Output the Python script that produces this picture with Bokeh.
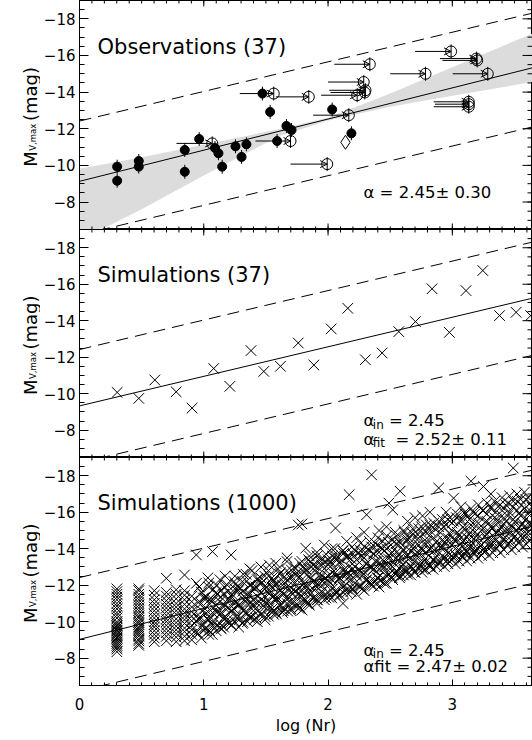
import math
from bokeh.plotting import figure
from bokeh.layouts import column, row
from bokeh.models import (Range1d, FixedTicker, LinearAxis, Label, Arrow,
                          OpenHead, ColumnDataSource)
from bokeh.embed import file_html
from bokeh.resources import INLINE

# ---------------- data ----------------
x_major = [0, 1, 2, 3]
x_tick_labels = ["0", "1", "2", "3"]
y_major = [-18, -16, -14, -12, -10, -8]
y_tick_labels = ["\u221218", "\u221216", "\u221214", "\u221212", "\u221210", "\u22128"]

# Observations: detections (filled circles)
obs_det_x = [0.303, 0.303, 0.477, 0.477, 0.847, 0.847, 0.963, 1.09, 1.118, 1.148,
             1.255, 1.304, 1.343, 1.472, 1.534, 1.590, 1.665, 1.706, 2.033, 2.188]
obs_det_m = [-9.93, -9.16, -10.24, -9.93, -10.84, -9.65, -11.44, -10.95, -10.66, -9.93,
             -11.04, -10.46, -11.15, -13.92, -12.92, -11.33, -12.15, -11.93, -13.05, -11.75]
# Observations: lower limits in log(Nr) (open circles with arrows)
obs_lim_x = [1.068, 1.563, 1.698, 1.845, 1.993, 2.167, 2.336, 2.287, 2.301, 2.295,
             2.234, 2.990, 3.194, 3.200, 2.784, 3.285, 3.132, 3.132, 3.132]
obs_lim_from = [0.78, 1.29, 1.416, 1.58, 1.698, 1.88, 2.05, 2.00, 2.01, 2.02,
                1.944, 2.70, 2.90, 2.92, 2.50, 3.003, 2.85, 2.86, 2.85]
obs_lim_m = [-11.20, -13.92, -11.33, -13.74, -10.07, -12.74, -15.52, -14.55, -14.10, -13.98,
             -13.83, -16.22, -15.83, -15.73, -15.00, -15.00, -13.47, -13.34, -13.20]
obs_diam_x = [2.14]
obs_diam_m = [-11.26]
obs_err = 0.38

# confidence band of the fit (observations)
obs_band_x = [0.0, 0.5, 1.0, 1.6, 2.0, 2.5, 3.0, 3.645]
obs_band_hi = [-9.81, -10.45, -11.12, -11.97, -12.60, -13.92, -15.35, -17.20]
obs_band_lo = [-5.90, -7.60, -9.45, -11.57, -12.45, -13.20, -13.80, -14.55]

# dashed envelopes (same in every panel)
dash_x = [0.0, 3.645]
dash_up = [-12.42, -18.31]
dash_lo = [-6.20, -12.10]

# fitted lines: intercept, slope
obs_fit = (-9.13, -1.70)
sim37_fit = (-9.33, -1.62)
sim1000_fit = (-9.03, -1.70)

# Simulations (37)
sim37_x = [0.303, 0.477, 0.606, 0.778, 0.906, 1.08, 1.21, 1.38, 1.483, 1.617,
           1.76, 1.886, 2.025, 2.159, 2.30, 2.435, 2.569, 2.703, 2.837, 2.976,
           3.11, 3.245, 3.38, 3.513, 3.63]
sim37_m = [-10.07, -9.74, -10.75, -10.10, -9.21, -11.38, -10.40, -12.36, -11.22, -11.50,
           -12.78, -11.57, -13.55, -14.68, -11.86, -12.23, -13.40, -13.95, -15.75, -13.36,
           -15.65, -16.75, -14.28, -14.46, -14.28]

# Simulations (1000): columns in log(Nr) and the magnitudes found in each
sim_col_x = [0.301, 0.477, 0.602, 0.699, 0.778, 0.845, 0.903,
             0.94, 0.98, 1.01, 1.04, 1.07, 1.10, 1.13, 1.16, 1.19, 1.22,
             1.25, 1.28, 1.31, 1.34, 1.37, 1.40, 1.43, 1.46, 1.49, 1.52,
             1.55, 1.58, 1.61, 1.64, 1.67, 1.70, 1.73, 1.76, 1.79, 1.82,
             1.85, 1.88, 1.91, 1.94, 1.97, 2.00, 2.03, 2.06, 2.09, 2.12,
             2.15, 2.17, 2.20, 2.23, 2.26, 2.29, 2.31, 2.35, 2.38, 2.41,
             2.44, 2.47, 2.49, 2.52, 2.55, 2.58, 2.61, 2.64, 2.67, 2.70,
             2.73, 2.76, 2.79, 2.82, 2.85, 2.89, 2.92, 2.95, 2.98, 3.01,
             3.04, 3.07, 3.10, 3.13, 3.15, 3.18, 3.21, 3.25, 3.28, 3.31,
             3.34, 3.37, 3.40, 3.43, 3.46, 3.49, 3.52, 3.55, 3.58, 3.61, 3.64]
sim_col_m = [
    [-8.35, -8.5, -8.6, -8.7, -8.8, -8.9, -9.0, -9.1, -9.15, -9.25, -9.3, -9.4, -9.5, -9.55, -9.65,
     -9.75, -9.8, -9.9, -10.0, -10.2, -10.35, -10.5, -10.7, -10.85, -11.0, -11.2, -11.35, -11.5, -11.65, -11.8],
    [-8.7, -8.8, -8.95, -9.05, -9.2, -9.3, -9.4, -9.5, -9.6, -9.7, -9.85, -9.95, -10.05, -10.2, -10.3,
     -10.45, -10.6, -10.75, -10.9, -11.05, -11.2, -11.35, -11.5, -11.7, -11.8],
    [-8.9, -9.1, -9.3, -9.5, -9.7, -9.85, -10.0, -10.2, -10.4, -10.6, -10.8, -11.0, -11.2, -11.45, -11.7],
    [-8.95, -9.2, -9.4, -9.6, -9.8, -10.0, -10.15, -10.35, -10.55, -10.75, -10.95, -11.15, -11.4, -11.6, -12.38],
    [-8.9, -9.15, -9.35, -9.55, -9.75, -9.95, -10.15, -10.4, -10.6, -10.8, -11.0, -11.25, -11.5, -11.75],
    [-8.95, -9.2, -9.45, -9.65, -9.9, -10.1, -10.3, -10.5, -10.7, -10.95, -11.2, -11.45, -11.7, -12.56],
    [-9.0, -9.3, -9.55, -9.8, -10.05, -10.3, -10.55, -10.8, -11.1, -11.4],
    [-13.66, -12.1, -10.0, -9.4], [-9.1, -10.2, -11.0, -11.6], [-9.6, -10.7, -11.3],
    [-9.3, -10.1, -11.9, -12.12], [-9.8, -10.5, -11.2, -13.84], [-9.5, -10.9, -11.6],
    [-9.9, -10.4, -11.1, -12.3], [-9.7, -10.8, -11.5], [-10.1, -11.2, -12.0],
    [-9.8, -10.6, -11.4, -13.66], [-10.0, -11.0, -11.8, -12.5], [-10.3, -10.9, -11.7],
    [-9.9, -11.3, -12.2], [-10.5, -11.1, -12.6], [-10.2, -11.5, -12.0, -12.9],
    [-10.6, -11.2, -11.9], [-10.0, -11.0, -12.3], [-10.4, -11.6, -12.1, -13.0],
    [-10.8, -11.4, -12.5], [-10.3, -11.1, -11.8, -12.8], [-10.7, -11.9, -12.4],
    [-10.5, -11.3, -12.0, -13.2], [-10.9, -11.7, -12.6], [-10.6, -11.5, -12.2],
    [-11.0, -11.9, -12.8, -13.5], [-10.7, -11.6, -12.4], [-11.1, -12.1, -13.0],
    [-10.9, -11.8, -12.6, -15.3], [-10.64, -11.4, -12.3, -13.3, -15.36], [-11.2, -12.0, -12.9, -14.03],
    [-10.9, -11.7, -12.5, -13.6], [-11.3, -12.2, -13.1], [-11.0, -11.9, -12.7, -13.8],
    [-11.5, -12.4, -13.3], [-11.2, -12.1, -12.9, -14.2], [-11.6, -12.5, -13.4],
    [-11.3, -12.3, -13.1, -14.0], [-11.7, -12.7, -13.6, -15.13], [-11.4, -12.4, -13.2],
    [-11.0, -11.9, -12.8, -13.9], [-11.6, -12.6, -13.5, -14.4], [-16.96, -12.2, -13.0],
    [-11.8, -12.9, -13.7], [-11.5, -12.5, -13.4, -14.6], [-11.9, -12.8, -13.9],
    [-11.7, -12.6, -13.5, -14.9], [-15.86, -12.3, -13.2], [-18.05, -12.0, -13.0, -14.1],
    [-12.2, -13.3, -14.3], [-11.9, -12.9, -13.8, -15.0], [-12.4, -13.4, -14.4],
    [-12.1, -13.1, -14.0, -15.2], [-16.5, -12.6, -13.6], [-16.13, -12.3, -13.3, -14.5],
    [-12.8, -13.8, -14.7], [-17.15, -12.5, -13.5, -14.3], [-12.9, -13.9, -15.0],
    [-12.6, -13.6, -14.5, -15.5], [-13.0, -14.1, -14.9], [-12.7, -13.7, -14.6, -15.7],
    [-13.2, -14.2, -15.1], [-12.9, -13.9, -14.8, -15.8], [-13.3, -14.4, -15.3],
    [-13.0, -14.0, -15.0, -16.0], [-13.4, -14.6, -15.4], [-17.33, -13.2, -14.2, -15.2],
    [-13.6, -14.5, -15.6], [-13.3, -14.3, -15.3, -16.0], [-13.7, -14.8, -15.7],
    [-16.77, -13.5, -14.5, -15.5], [-13.9, -14.9, -15.9], [-13.6, -14.6, -15.6, -16.3],
    [-14.0, -15.1, -16.0], [-13.7, -14.8, -15.8], [-17.7, -14.2, -15.3, -16.2],
    [-13.9, -14.9, -15.9], [-14.3, -15.4, -16.4], [-17.41, -14.0, -15.1, -16.1],
    [-14.5, -15.5, -16.5], [-14.2, -15.2, -16.2, -17.0], [-14.6, -15.7, -16.6],
    [-14.3, -15.4, -16.3], [-14.8, -15.8, -16.8], [-14.4, -15.5, -16.4],
    [-14.9, -16.0, -16.9], [-18.42, -14.6, -15.6, -16.6], [-15.0, -16.1, -17.0],
    [-14.7, -15.8, -16.7], [-15.2, -16.2, -17.1], [-14.9, -15.9, -16.8], [-15.3, -16.3],
]
# further simulated columns lying between the ones above
sim_col2_x = [0.955, 0.985, 1.015, 1.045, 1.075, 1.105, 1.135, 1.165, 1.195, 1.225,
              1.255, 1.285, 1.315, 1.345, 1.375, 1.405, 1.435, 1.465, 1.495, 1.525,
              1.555, 1.585, 1.615, 1.645, 1.675, 1.705, 1.735, 1.765, 1.795, 1.825,
              1.855, 1.885, 1.915, 1.945, 1.975, 2.005, 2.035, 2.065, 2.095, 2.125,
              2.155, 2.185, 2.215, 2.245, 2.275, 2.305, 2.335, 2.365, 2.395, 2.425,
              2.455, 2.485, 2.515, 2.545, 2.575, 2.605, 2.635, 2.665, 2.695, 2.725,
              2.755, 2.785, 2.815, 2.845, 2.875, 2.905, 2.935, 2.965, 2.995, 3.025,
              3.055, 3.085, 3.115, 3.145, 3.175, 3.205, 3.235, 3.265, 3.295, 3.325,
              3.355, 3.385, 3.415, 3.445, 3.475, 3.505, 3.535, 3.565, 3.595, 3.625]
sim_col2_m = [
    [-9.35, -10.15, -11.05], [-9.80, -10.60, -11.60], [-9.66, -10.46, -11.36],
    [-9.51, -10.31, -11.21], [-9.96, -10.76, -11.76], [-9.81, -10.61, -11.51],
    [-9.66, -10.46, -11.36], [-10.11, -10.91, -11.91], [-9.96, -10.76, -11.66],
    [-9.81, -10.61, -11.51], [-10.26, -11.06, -12.06], [-10.11, -10.91, -11.81],
    [-9.97, -10.77, -11.67], [-10.42, -11.22, -12.22], [-10.27, -11.07, -11.97],
    [-10.12, -10.92, -11.82], [-10.57, -11.37, -12.37], [-10.42, -11.22, -12.12],
    [-10.27, -11.07, -11.97], [-10.72, -11.52, -12.52], [-10.57, -11.37, -12.27],
    [-10.42, -11.22, -12.12], [-10.88, -11.68, -12.68], [-10.73, -11.53, -12.43],
    [-10.58, -11.38, -12.28], [-11.03, -11.83, -12.83], [-10.88, -11.68, -12.58],
    [-10.73, -11.53, -12.43], [-11.18, -11.98, -12.98], [-11.03, -11.93, -12.83],
    [-11.48, -12.38, -13.28], [-11.33, -12.23, -13.13], [-11.19, -12.09, -12.99],
    [-11.64, -12.54, -13.44], [-11.49, -12.39, -13.29], [-11.34, -12.24, -13.14],
    [-11.79, -12.69, -13.59], [-11.64, -12.54, -13.44], [-11.49, -12.39, -13.29],
    [-11.94, -12.84, -13.74], [-11.79, -12.69, -13.59], [-11.65, -12.55, -13.45],
    [-12.10, -13.00, -13.90], [-11.95, -12.85, -13.75], [-11.80, -12.70, -13.60],
    [-12.25, -13.15, -14.05], [-12.10, -13.00, -13.90], [-11.95, -12.85, -13.75],
    [-12.40, -13.30, -14.20], [-12.25, -13.15, -14.05], [-12.10, -13.00, -13.90],
    [-12.55, -13.45, -14.35], [-12.41, -13.01, -13.81], [-12.66, -13.46, -14.26],
    [-12.41, -12.91, -13.71], [-12.56, -13.16, -13.96], [-12.81, -13.61, -14.41],
    [-12.56, -13.06, -13.86], [-12.71, -13.31, -14.11], [-12.96, -13.76, -14.56],
    [-12.71, -13.21, -14.01], [-12.86, -13.46, -14.26], [-13.12, -13.92, -14.72],
    [-12.87, -13.37, -14.17], [-13.02, -13.62, -14.42], [-13.27, -14.07, -14.87],
    [-13.02, -13.52, -14.32], [-13.17, -13.77, -14.57], [-13.42, -14.22, -15.02],
    [-13.17, -13.67, -14.47], [-13.32, -13.92, -14.72], [-13.57, -14.37, -15.17],
    [-13.33, -13.83, -14.63], [-13.48, -14.08, -14.88], [-13.73, -14.53, -15.33],
    [-13.48, -13.98, -14.78], [-13.63, -14.23, -15.03], [-13.88, -14.68, -15.48],
    [-13.63, -14.13, -14.93], [-13.78, -14.38, -15.18], [-14.03, -14.83, -15.63],
    [-13.78, -14.28, -15.08], [-13.94, -14.54, -15.34], [-14.19, -14.99, -15.79],
    [-13.94, -14.44, -15.24], [-14.09, -14.69, -15.49], [-14.34, -15.14, -15.94],
    [-14.09, -14.59, -15.39], [-14.24, -14.84, -15.64], [-14.49, -15.29, -16.09],
]
# a third, irregularly spaced set of simulated columns
sim_col3_x = [0.962, 0.997, 1.033, 1.068, 1.104, 1.141, 1.172, 1.208, 1.243, 1.281,
              1.317, 1.352, 1.388, 1.421, 1.459, 1.493, 1.528, 1.562, 1.597, 1.633,
              1.669, 1.702, 1.738, 1.772, 1.807, 1.843, 1.879, 1.912, 1.948, 1.983,
              2.018, 2.054, 2.088, 2.122, 2.158, 2.193, 2.228, 2.262, 2.297, 2.333,
              2.368, 2.402, 2.437, 2.472, 2.507, 2.541, 2.577, 2.612, 2.647, 2.682,
              2.718, 2.752, 2.787, 2.822, 2.857, 2.893, 2.928, 2.963, 2.998, 3.033,
              3.068, 3.102, 3.138, 3.172, 3.207, 3.243, 3.277, 3.312, 3.348, 3.382,
              3.417, 3.452, 3.488, 3.522, 3.557, 3.592, 3.628]
sim_col3_m = [
    [-10.2, -11.9], [-9.5, -11.3], [-10.1, -12.4], [-9.3, -11.1], [-10.5, -12.0],
    [-9.6, -11.7], [-10.3, -12.5], [-9.9, -11.2], [-10.7, -12.2], [-9.7, -11.9],
    [-10.6, -12.6], [-10.0, -11.5], [-10.9, -12.8], [-10.2, -11.9], [-11.0, -12.4],
    [-10.1, -11.8], [-10.9, -13.1], [-10.4, -12.2], [-11.3, -12.9], [-10.5, -12.0],
    [-11.2, -13.3], [-10.6, -12.5], [-11.4, -12.9], [-10.8, -13.2], [-11.6, -12.7],
    [-11.0, -13.4], [-11.8, -12.9], [-11.2, -13.6], [-12.0, -13.1], [-11.3, -13.7],
    [-12.1, -13.3], [-11.5, -14.0], [-12.3, -13.5], [-11.6, -13.9], [-12.4, -13.6],
    [-11.8, -14.1], [-12.6, -13.4], [-12.0, -14.3], [-12.7, -13.8], [-12.2, -14.4],
    [-12.9, -13.7], [-12.4, -14.6], [-13.0, -14.0], [-12.5, -14.7], [-13.1, -14.2],
    [-12.6, -14.9], [-13.3, -14.4], [-12.8, -14.9], [-13.4, -14.6], [-12.9, -15.1],
    [-13.6, -14.8], [-13.0, -15.2], [-13.8, -14.9], [-13.1, -15.3], [-13.9, -15.1],
    [-13.3, -15.5], [-14.1, -15.2], [-13.4, -15.6], [-14.2, -15.4], [-13.6, -15.7],
    [-14.3, -15.5], [-13.7, -15.9], [-14.5, -15.6], [-13.8, -16.0], [-14.6, -15.8],
    [-13.9, -16.1], [-14.8, -15.9], [-14.1, -16.3], [-14.9, -16.0], [-14.2, -16.4],
    [-15.0, -16.2], [-14.3, -16.5], [-15.2, -16.3], [-14.5, -16.6], [-15.3, -16.4],
    [-14.6, -16.7], [-15.4, -16.5],
]

# ---------------- layout / style ----------------
FONT = "DejaVu Sans"
LAB_W = 40          # width of the strip that carries the y-axis title
LEFT = 79           # left edge of every frame in the page
FRAME_W = 532 - LEFT
X_END = 3.645
Y_BOT, Y_TOP = -6.5, -19.0
PX_X = FRAME_W / X_END
X_MINOR = [i / 10 for i in range(0, 37)]
Y_MINOR = [-19 + 0.5 * i for i in range(26)]


def add_text(p, x, y, text, size, angle=0.0):
    p.add_layout(Label(x=x, y=y, text=text, text_font=FONT, text_font_size=size,
                       text_color="black", text_baseline="alphabetic", angle=angle))


def label_fig(height, bottom):
    f = figure(width=LAB_W, height=height, x_range=Range1d(0, LAB_W),
               y_range=Range1d(Y_BOT, Y_TOP), x_axis_location=None,
               y_axis_location=None, output_backend="svg", toolbar_location=None,
               min_border_left=0, min_border_right=0, min_border_top=0,
               min_border_bottom=bottom)
    f.grid.visible = False
    f.outline_line_color = None
    f.background_fill_color = "white"
    f.border_fill_color = "white"
    add_text(f, 30.0, -9.92, "M", "18px", math.pi / 2)
    add_text(f, 32.5, -10.80, "V,max", "8.5px", math.pi / 2)
    add_text(f, 30.0, -12.42, "(mag)", "18px", math.pi / 2)
    return f


def tick_segs(p, frame_h, top, bottom):
    px_y = frame_h / (Y_TOP - Y_BOT) * -1
    x0, y0, x1, y1 = [], [], [], []
    # right-hand ticks
    for t, ln in [(t, 10) for t in y_major] + [(t, 5) for t in Y_MINOR]:
        x0.append(X_END - ln / PX_X); x1.append(X_END); y0.append(t); y1.append(t)
    for t, ln in [(t, 6) for t in x_major] + [(t, 3) for t in X_MINOR]:
        if top:
            x0.append(t); x1.append(t); y0.append(Y_TOP); y1.append(Y_TOP + ln / px_y)
        if bottom:
            x0.append(t); x1.append(t); y0.append(Y_BOT); y1.append(Y_BOT - ln / px_y)
    p.segment(x0=x0, y0=y0, x1=x1, y1=y1, line_color="black", line_width=1)


def base_fig(height, frame_h, bottom_axis):
    p = figure(width=532 - LAB_W, height=height, x_range=Range1d(0, X_END),
               y_range=Range1d(Y_BOT, Y_TOP), x_axis_location=None,
               y_axis_location=None, output_backend="svg", toolbar_location=None,
               min_border_left=LEFT - LAB_W, min_border_right=0, min_border_top=0,
               min_border_bottom=height - frame_h)
    p.grid.visible = False
    p.outline_line_color = "black"
    p.background_fill_color = "white"
    p.border_fill_color = "white"
    yt = FixedTicker(ticks=y_major, minor_ticks=Y_MINOR)
    ax = LinearAxis(ticker=yt)
    ax.major_tick_in = 9
    ax.major_tick_out = 0
    ax.minor_tick_in = 5
    ax.minor_tick_out = 0
    ax.major_label_overrides = dict(zip(y_major, y_tick_labels))
    ax.major_label_standoff = 4
    ax.major_label_text_font = FONT
    ax.major_label_text_font_size = "15px"
    ax.major_label_text_color = "black"
    p.add_layout(ax, "left")
    if bottom_axis:
        xt = FixedTicker(ticks=x_major, minor_ticks=X_MINOR)
        bx = LinearAxis(ticker=xt)
        bx.major_tick_in = 6
        bx.major_tick_out = 0
        bx.minor_tick_in = 3
        bx.minor_tick_out = 0
        bx.major_label_overrides = dict(zip(x_major, x_tick_labels))
        bx.major_label_standoff = 12
        bx.major_label_text_font = FONT
        bx.major_label_text_font_size = "15px"
        bx.major_label_text_color = "black"
        bx.axis_label = "log (Nr)"
        bx.axis_label_text_font = FONT
        bx.axis_label_text_font_size = "16px"
        bx.axis_label_text_font_style = "normal"
        bx.axis_label_text_color = "black"
        bx.axis_label_standoff = 3
        p.add_layout(bx, "below")
    tick_segs(p, frame_h, True, not bottom_axis)
    p.line(dash_x, dash_up, line_color="black", line_width=1, line_dash="12 7")
    p.line(dash_x, dash_lo, line_color="black", line_width=1, line_dash="12 7")
    return p


def fit_line(p, fit):
    a, b = fit
    xs = [0.0, X_END]
    p.line(xs, [a + b * x for x in xs], line_color="black", line_width=1)


# ---- panel 1: observations ----
p1 = base_fig(229, 229, False)
p1.varea(x=obs_band_x, y1=obs_band_lo, y2=obs_band_hi, fill_color="#dcdcdc", level="underlay")
fit_line(p1, obs_fit)
p1.segment(x0=obs_det_x, y0=[m - obs_err for m in obs_det_m], x1=obs_det_x,
           y1=[m + obs_err for m in obs_det_m], line_color="black", line_width=1)
p1.segment(x0=obs_lim_x, y0=[m - obs_err for m in obs_lim_m], x1=obs_lim_x,
           y1=[m + obs_err for m in obs_lim_m], line_color="black", line_width=1)
lim_src = ColumnDataSource(dict(x0=obs_lim_from, x1=obs_lim_x, y=obs_lim_m))
p1.add_layout(Arrow(end=OpenHead(size=7, line_color="black", line_width=1),
                    x_start="x0", y_start="y", x_end="x1", y_end="y",
                    source=lim_src, line_color="black", line_width=1))
p1.scatter(obs_lim_x, obs_lim_m, marker="circle", size=11, fill_color=None,
           line_color="black", line_width=1)
p1.scatter(obs_det_x, obs_det_m, marker="circle", size=9, fill_color="black",
           line_color="black")
p1.scatter(obs_diam_x, obs_diam_m, marker="diamond", size=14, fill_color="white",
           line_color="black", line_width=1)
add_text(p1, 0.145, -16.44, "Observations (37)", "21px")
add_text(p1, 2.285, -8.51, "\u03b1 = 2.45\u00b1 0.30", "16.5px")

# ---- panel 2: simulations (37) ----
p2 = base_fig(228, 228, False)
fit_line(p2, sim37_fit)
p2.scatter(sim37_x, sim37_m, marker="x", size=15, line_color="black", line_width=1)
add_text(p2, 0.145, -16.50, "Simulations (37)", "21px")
add_text(p2, 2.285, -8.51, "\u03b1", "16.5px")
add_text(p2, 2.36, -8.29, "in", "12px")
add_text(p2, 2.49, -8.51, "= 2.45", "16.5px")
add_text(p2, 2.285, -7.51, "\u03b1", "16.5px")
add_text(p2, 2.36, -7.29, "fit", "12px")
add_text(p2, 2.542, -7.51, "= 2.52\u00b1 0.11", "16.5px")

# ---- panel 3: simulations (1000) ----
p3 = base_fig(283, 228, True)
fit_line(p3, sim1000_fit)
sx, sm = [], []
for xc, ms in (list(zip(sim_col_x, sim_col_m)) + list(zip(sim_col2_x, sim_col2_m))
               + list(zip(sim_col3_x, sim_col3_m))):
    sx += [xc] * len(ms)
    sm += ms
p3.scatter(sx, sm, marker="x", size=15, line_color="black", line_width=1)
add_text(p3, 0.145, -16.52, "Simulations (1000)", "21px")
add_text(p3, 2.285, -8.44, "\u03b1", "16.5px")
add_text(p3, 2.36, -8.22, "in", "12px")
add_text(p3, 2.49, -8.44, "= 2.45", "16.5px")
add_text(p3, 2.285, -7.52, "\u03b1fit = 2.47\u00b1 0.02", "16.5px")

layout = column(row(label_fig(229, 0), p1, spacing=0),
                row(label_fig(228, 0), p2, spacing=0),
                row(label_fig(283, 55), p3, spacing=0), spacing=0)
open("out.html", "w").write(file_html(layout, INLINE))
